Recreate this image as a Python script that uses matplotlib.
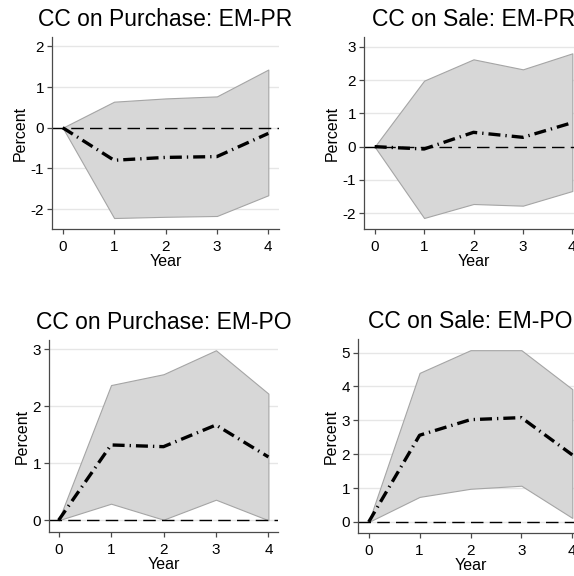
import numpy as np
import matplotlib.pyplot as plt

plt.rcParams['font.family'] = ['Liberation Sans', 'DejaVu Sans']

years = [0, 1, 2, 3, 4]

titles = ["CC on Purchase: EM-PR", "CC on Sale: EM-PR",
          "CC on Purchase: EM-PO", "CC on Sale: EM-PO"]

# point estimates and confidence bands, one list per panel
est_pur_pr = [0, -0.80, -0.73, -0.71, -0.14]
lo_pur_pr = [0, -2.22, -2.19, -2.17, -1.66]
hi_pur_pr = [0, 0.64, 0.72, 0.77, 1.43]

est_sal_pr = [0, -0.07, 0.43, 0.28, 0.72]
lo_sal_pr = [0, -2.14, -1.72, -1.77, -1.33]
hi_sal_pr = [0, 1.98, 2.62, 2.32, 2.80]

est_pur_po = [0, 1.32, 1.29, 1.67, 1.11]
lo_pur_po = [0, 0.29, 0.01, 0.36, 0.0]
hi_pur_po = [0, 2.37, 2.56, 2.98, 2.22]

est_sal_po = [0, 2.56, 3.02, 3.08, 1.98]
lo_sal_po = [0, 0.74, 0.98, 1.07, 0.12]
hi_sal_po = [0, 4.40, 5.07, 5.07, 3.92]

yticks = [[-2, -1, 0, 1, 2], [-2, -1, 0, 1, 2, 3], [0, 1, 2, 3], [0, 1, 2, 3, 4, 5]]

W, H = 574, 576
# axes boxes in pixels: left, right, top, bottom, plus limits
boxes = [
    (52, 279, 37, 229, (-0.208, 4.208), (-2.49, 2.23)),
    (364, 583, 37, 229, (-0.216, 4.216), (-2.47, 3.29)),
    (49, 278, 340, 532, (-0.183, 4.183), (-0.206, 3.16)),
    (358, 583, 339, 533, (-0.21, 4.21), (-0.325, 5.40)),
]
panels = [
    (est_pur_pr, lo_pur_pr, hi_pur_pr),
    (est_sal_pr, lo_sal_pr, hi_sal_pr),
    (est_pur_po, lo_pur_po, hi_pur_po),
    (est_sal_po, lo_sal_po, hi_sal_po),
]

fig = plt.figure(figsize=(W / 100, H / 100), dpi=100)

for i, (box, (est, lo, hi)) in enumerate(zip(boxes, panels)):
    l, r, t, b, xl, yl = box
    ax = fig.add_axes([l / W, 1 - b / H, (r - l) / W, (b - t) / H])
    ax.fill_between(years, lo, hi, facecolor='#d7d7d7', edgecolor='#a5a5a5',
                    linewidth=0.8, zorder=1)
    ax.axhline(0, color='black', linewidth=1.0, dashes=(9, 4.5), zorder=2)
    ax.plot(years, est, color='black', linewidth=2.4,
            dashes=(3.6, 1.5, 0.4, 1.5), zorder=3)
    ax.set_xlim(*xl)
    ax.set_ylim(*yl)
    ax.set_xticks(years)
    ax.set_yticks(yticks[i])
    ax.set_yticklabels([str(v) for v in yticks[i]])
    ax.grid(axis='y', color='#e6e6e6', linewidth=1.0, zorder=0)
    ax.set_axisbelow(True)
    for s in ('top', 'right'):
        ax.spines[s].set_visible(False)
    for s in ('left', 'bottom'):
        ax.spines[s].set_color('#4a4a4a')
        ax.spines[s].set_linewidth(0.9)
    ax.tick_params(axis='both', direction='out', length=3.6, width=0.9,
                   color='#4a4a4a', labelsize=11, pad=2)
    ax.tick_params(axis='x', pad=4)
    ax.set_xlabel("Year", fontsize=11.5, labelpad=0)
    ax.set_ylabel("Percent", fontsize=11.5, labelpad=2)
    ax.set_title(titles[i], fontsize=16.5, pad=8)

fig.savefig("out.png", dpi=100)
